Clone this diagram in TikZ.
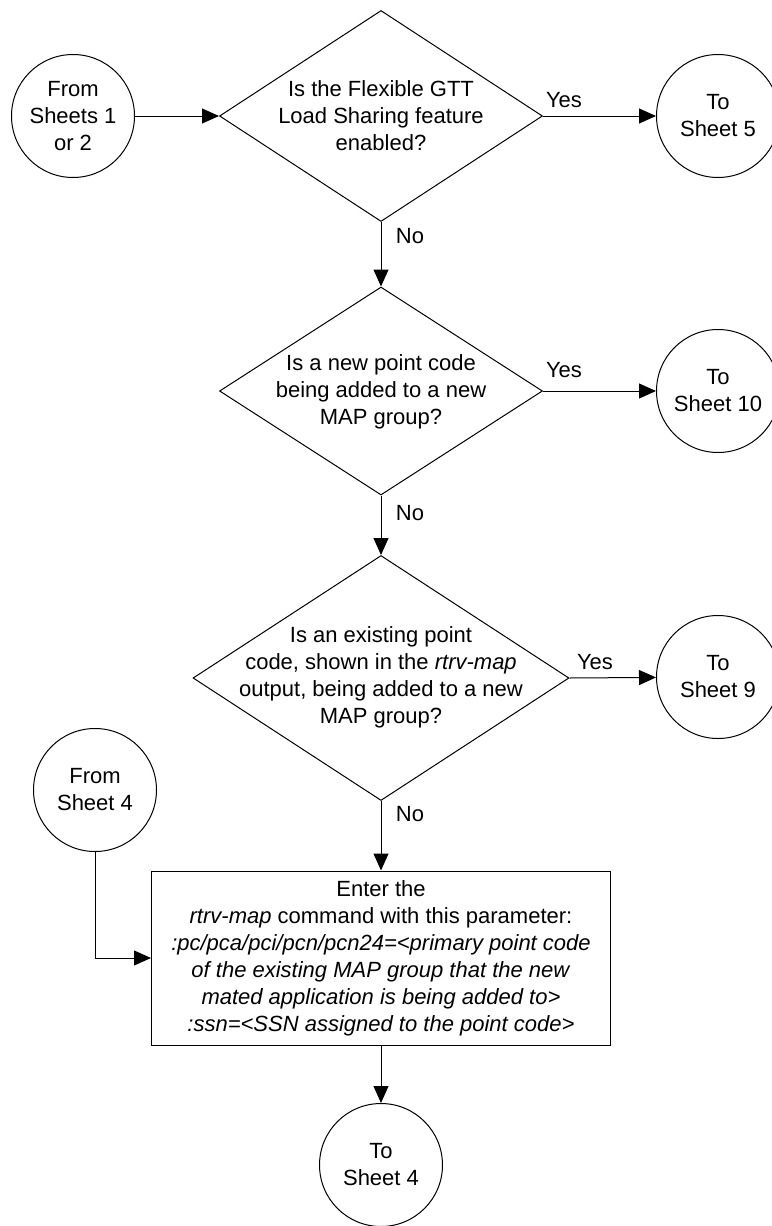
\documentclass[tikz,border=0pt]{standalone}
\usepackage{fontspec}
\setmainfont{Liberation Sans}
\usetikzlibrary{shapes.geometric,arrows.meta}
\begin{document}
\begin{tikzpicture}[x=1pt,y=-1pt,
  every node/.style={font=\fontsize{22}{27}\selectfont},
  conn/.style={circle,draw,line width=1pt,minimum size=123pt,inner sep=0pt,align=center},
  dia/.style={diamond,draw,line width=1pt,inner sep=0pt},
  txt/.style={align=center,inner sep=0pt},
  proc/.style={rectangle,draw,line width=1pt,minimum width=459pt,minimum height=174pt,align=center,inner sep=0pt},
  arr/.style={line width=1pt,-{Triangle[length=17pt,width=15pt]}},
  lbl/.style={inner sep=0pt}
]
\useasboundingbox (0,0) rectangle (771,1226);

% connectors (circles)
\node[conn] (a) at (73,116) {From\\Sheets 1\\or 2};
\node[conn] (r5) at (718,116) {To\\Sheet 5};
\node[conn] (r10) at (718,391) {To\\Sheet 10};
\node[conn] (r9) at (718,677) {To\\Sheet 9};
\node[conn] (f4) at (95,790) {From\\Sheet 4};
\node[conn] (t4) at (381,1165) {To\\Sheet 4};

% decisions
\node[dia,minimum width=323pt,minimum height=211pt] (d1) at (381,116) {};
\node[txt] (d1t) at (381,116) {Is the Flexible GTT\\Load Sharing feature\\enabled?};
\node[dia,minimum width=323pt,minimum height=208pt] (d2) at (381,391) {};
\node[txt] (d2t) at (381,392) {Is a new point code\\being added to a new\\MAP group?};
\node[dia,minimum width=376pt,minimum height=245pt] (d3) at (381,678) {};
\node[txt] (d3t) at (381,677) {Is an existing point\\code, shown in the \textit{rtrv-map}\\output, being added to a new\\MAP group?};

% process box
\node[proc] (box) at (381,958) {Enter the\\\textit{rtrv-map} command with this parameter:\\\textit{:pc/pca/pci/pcn/pcn24=<primary point code}\\\textit{of the existing MAP group that the new}\\\textit{mated application is being added to>}\\\textit{:ssn=<SSN assigned to the point code>}};

% arrows
\draw[arr] (a) -- (d1);
\draw[arr] (d1.east) -- (r5);
\draw[arr] (d1.south) -- (d2.north);
\draw[arr] (d2.east) -- (r10);
\draw[arr] (d2.south) -- (d3.north);
\draw[arr] (d3.east) -- (r9);
\draw[arr] (d3.south) -- (d3.south |- box.north);
\draw[arr] (f4.south) |- (box.west);
\draw[arr] (box.south) -- (t4.north);

% labels
\node[lbl] (y1) at (564,100) {Yes};
\node[lbl] (y2) at (564,370) {Yes};
\node[lbl] (y3) at (595,662) {Yes};
\node[lbl] (n1) at (410,236) {No};
\node[lbl] (n2) at (410,513) {No};
\node[lbl] (n3) at (410,814) {No};
\end{tikzpicture}
\end{document}
